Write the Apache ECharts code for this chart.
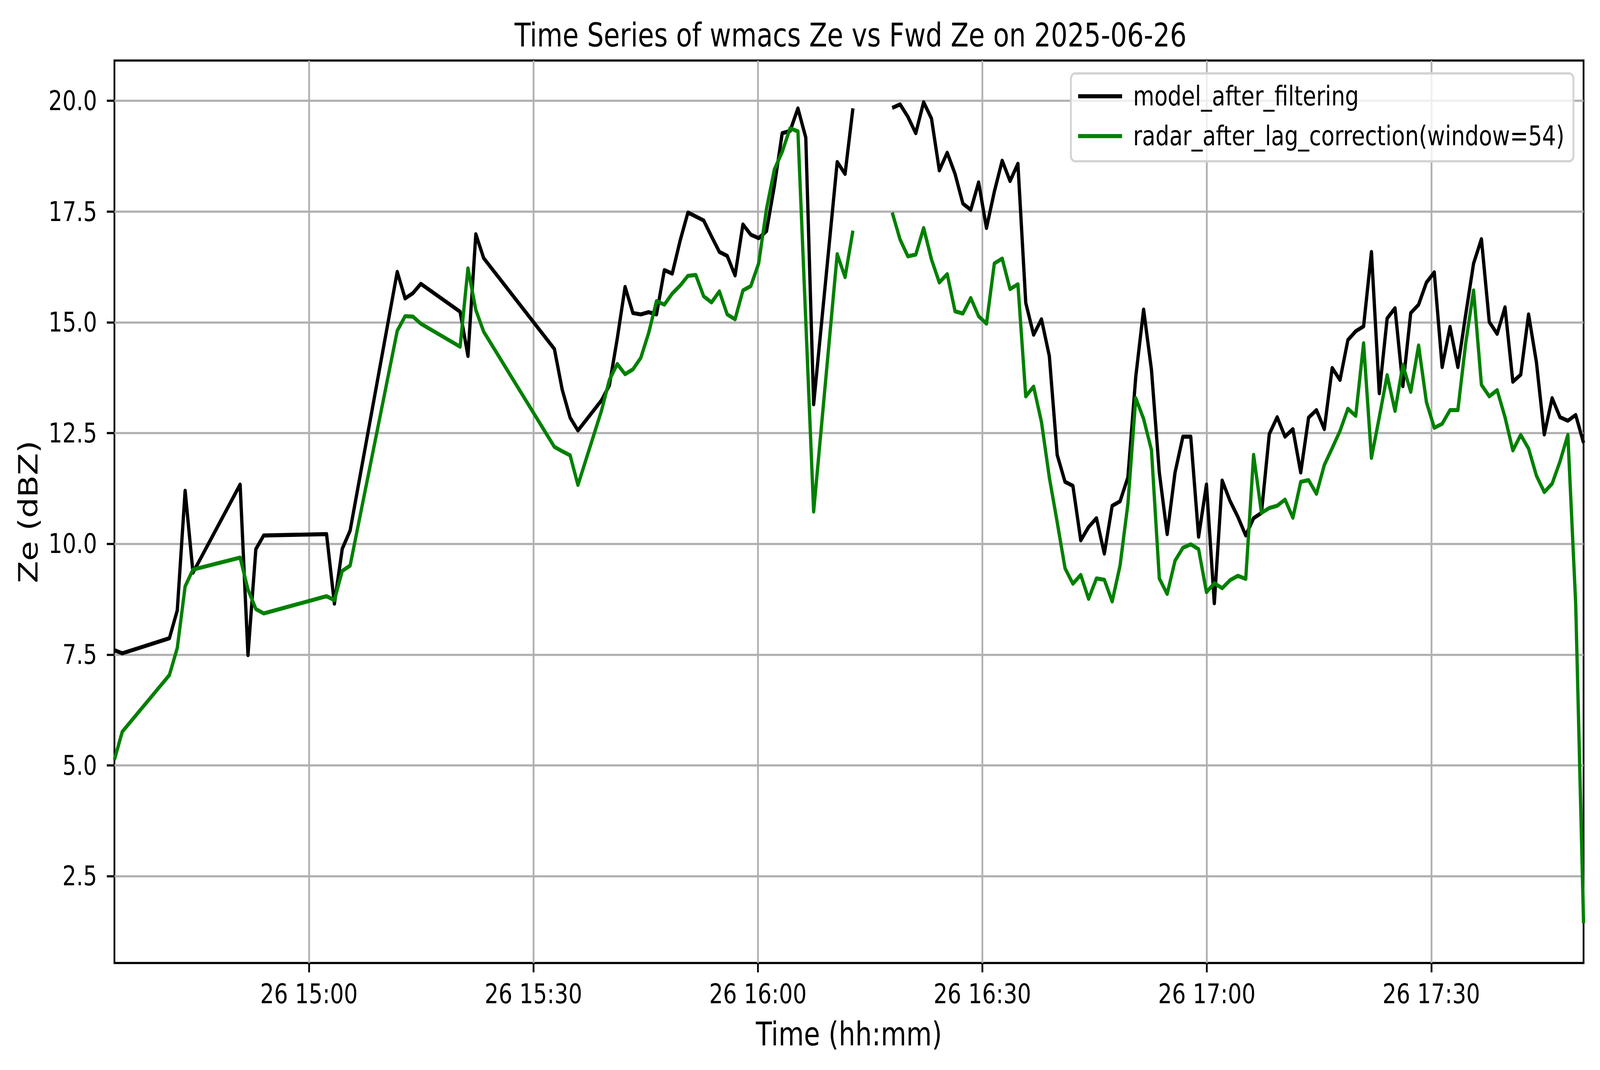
<!DOCTYPE html>
<html>
<head>
<meta charset="utf-8">
<title>Time Series of wmacs Ze vs Fwd Ze</title>
<script src="https://cdn.jsdelivr.net/npm/echarts@6/dist/echarts.min.js"></script>
<style>
  html, body { margin: 0; padding: 0; background: #ffffff; overflow: hidden; }
  #chart { width: 5062px; height: 2740px; transform-origin: 0 0; }
</style>
</head>
<body>
<div id="chart"></div>
<script>
// ============================
//   DATA
// ============================
const times = [
  "14:34:00", "14:35:03", "14:41:21", "14:42:24", "14:43:27", "14:44:30",
  "14:50:48", "14:51:51", "14:52:54", "14:53:57",
  "15:02:21", "15:03:24", "15:04:27", "15:05:30",
  "15:11:48", "15:12:51", "15:13:54", "15:14:57",
  "15:20:12", "15:21:15", "15:22:18", "15:23:21",
  "15:32:48", "15:33:51", "15:34:54", "15:35:57",
  "15:39:06", "15:40:09", "15:41:12", "15:42:15", "15:43:18", "15:44:21",
  "15:45:24", "15:46:27", "15:47:30", "15:48:33", "15:49:36", "15:50:39",
  "15:51:42", "15:52:45", "15:53:48", "15:54:51", "15:55:54", "15:56:57",
  "15:58:00", "15:59:03", "16:00:06", "16:01:09", "16:02:12", "16:03:15",
  "16:04:18", "16:05:21", "16:06:24", "16:07:27",
  "16:10:36", "16:11:39", "16:12:42", "16:13:45",
  "16:17:57", "16:19:00", "16:20:03", "16:21:06", "16:22:09", "16:23:12",
  "16:24:15", "16:25:18", "16:26:21", "16:27:24", "16:28:27", "16:29:30",
  "16:30:33", "16:31:36", "16:32:39", "16:33:42", "16:34:45", "16:35:48",
  "16:36:51", "16:37:54", "16:38:57", "16:40:00", "16:41:03", "16:42:06",
  "16:43:09", "16:44:12", "16:45:15", "16:46:18", "16:47:21", "16:48:24",
  "16:49:27", "16:50:30", "16:51:33", "16:52:36", "16:53:39", "16:54:42",
  "16:55:45", "16:56:48", "16:57:51", "16:58:54", "16:59:57", "17:01:00",
  "17:02:03", "17:03:06", "17:04:09", "17:05:12", "17:06:15", "17:07:18",
  "17:08:21", "17:09:24", "17:10:27", "17:11:30", "17:12:33", "17:13:36",
  "17:14:39", "17:15:42", "17:16:45", "17:17:48", "17:18:51", "17:19:54",
  "17:20:57", "17:22:00", "17:23:03", "17:24:06", "17:25:09", "17:26:12",
  "17:27:15", "17:28:18", "17:29:21", "17:30:24", "17:31:27", "17:32:30",
  "17:33:33", "17:34:36", "17:35:39", "17:36:42", "17:37:45", "17:38:48",
  "17:39:51", "17:40:54", "17:41:57", "17:43:00", "17:44:03", "17:45:06",
  "17:46:09", "17:47:12", "17:48:15", "17:49:18", "17:50:21",
];

// model_after_filtering (null = missing sample, breaks the line)
const modelZe = [
  7.60, 7.53, 7.87, 8.50, 11.20, 9.35,
  11.34, 7.49, 9.88, 10.19,
  10.22, 8.65, 9.89, 10.30,
  16.14, 15.54, 15.66, 15.87,
  15.24, 14.24, 16.99, 16.45,
  14.40, 13.48, 12.85, 12.56,
  13.24, 13.58, 14.63, 15.80, 15.21, 15.18,
  15.23, 15.18, 16.18, 16.10, 16.84, 17.48,
  17.39, 17.30, 16.94, 16.59, 16.50, 16.06,
  17.21, 16.98, 16.90, 17.06, 18.08, 19.27,
  19.32, 19.83, 19.17, 13.15,
  18.62, 18.35, 19.83, null,
  19.84, 19.92, 19.64, 19.27, 19.97, 19.60,
  18.43, 18.83, 18.35, 17.68, 17.54, 18.16,
  17.13, 17.95, 18.65, 18.19, 18.58, 15.44,
  14.72, 15.07, 14.24, 12.01, 11.40, 11.31,
  10.08, 10.38, 10.58, 9.78, 10.86, 10.96,
  11.50, 13.77, 15.29, 13.93, 11.61, 10.22,
  11.61, 12.42, 12.42, 10.16, 11.34, 8.66,
  11.43, 10.97, 10.61, 10.19, 10.58, 10.70,
  12.48, 12.86, 12.42, 12.59, 11.61, 12.85,
  13.02, 12.59, 13.97, 13.70, 14.60, 14.80,
  14.91, 16.59, 13.40, 15.09, 15.32, 13.56,
  15.21, 15.40, 15.90, 16.13, 13.99, 14.90,
  13.99, 15.18, 16.33, 16.88, 15.01, 14.74,
  15.34, 13.66, 13.82, 15.18, 14.10, 12.47,
  13.29, 12.86, 12.78, 12.91, 12.28,
];

// radar_after_lag_correction(window=54)
const radarZe = [
  5.13, 5.76, 7.04, 7.65, 9.04, 9.42,
  9.69, 8.97, 8.53, 8.43,
  8.82, 8.73, 9.39, 9.51,
  14.81, 15.14, 15.13, 14.97,
  14.45, 16.22, 15.28, 14.79,
  12.19, 12.09, 12.00, 11.33,
  13.01, 13.70, 14.06, 13.83, 13.94, 14.20,
  14.76, 15.48, 15.40, 15.65, 15.83, 16.05,
  16.07, 15.59, 15.45, 15.70, 15.18, 15.07,
  15.72, 15.82, 16.33, 17.56, 18.45, 18.85,
  19.38, 19.31, 15.03, 10.73,
  16.54, 16.02, 17.07, null,
  17.48, 16.87, 16.49, 16.53, 17.13, 16.42,
  15.90, 16.09, 15.25, 15.20, 15.55, 15.14,
  14.97, 16.33, 16.44, 15.75, 15.86, 13.33,
  13.55, 12.75, 11.50, 10.49, 9.45, 9.10,
  9.30, 8.76, 9.22, 9.19, 8.70, 9.51,
  10.90, 13.29, 12.82, 12.12, 9.22, 8.87,
  9.62, 9.91, 9.99, 9.88, 8.91, 9.11,
  9.00, 9.18, 9.28, 9.21, 12.01, 10.70,
  10.81, 10.86, 11.00, 10.59, 11.40, 11.44,
  11.13, 11.78, 12.16, 12.55, 13.05, 12.89,
  14.53, 11.94, 12.86, 13.81, 13.00, 14.04,
  13.43, 14.48, 13.20, 12.62, 12.71, 13.02,
  13.02, 14.53, 15.72, 13.59, 13.33, 13.47,
  12.86, 12.11, 12.46, 12.15, 11.54, 11.17,
  11.36, 11.86, 12.46, 8.64, 1.44,
];

// axis ticks
const xTickTimes = ["15:00", "15:30", "16:00", "16:30", "17:00", "17:30"];
const yTickValues = [2.5, 5.0, 7.5, 10.0, 12.5, 15.0, 17.5, 20.0];
const yRange = [0.54, 20.91];

const seriesNames = ["model_after_filtering", "radar_after_lag_correction(window=54)"];

// ============================
//   HELPERS
// ============================
// "HH:MM(:SS)" -> minutes of the day
const toMinutes = (s) => {
  const p = s.split(":").map(Number);
  return p[0] * 60 + p[1] + (p[2] || 0) / 60;
};

const pad2 = (n) => String(n).padStart(2, "0");
const fmtTime = (m) => {
  const mm = Math.round(m);
  return `26 ${pad2(Math.floor(mm / 60))}:${pad2(mm % 60)}`;
};

const xs = times.map(toMinutes);
const pairs = (vals) => xs.map((x, i) => [x, vals[i]]);

// ============================
//   STYLE (matplotlib look, 500 dpi)
// ============================
const FIG_W = 5062;
const FIG_H = 2740;
const FONT = "DejaVu Sans";
const TICK_FS = 69;
const LABEL_FS = 83;
const SPINE_W = 5.6;
const LINE_W = 10.4;

// the window may be narrower than the figure: squeeze the figure to fit it
const el = document.getElementById("chart");
const sx = Math.min(1, (window.innerWidth || FIG_W) / FIG_W);
const sy = Math.min(1, (window.innerHeight || FIG_H) / FIG_H);
el.style.transform = `scale(${sx}, ${sy})`;

const chart = echarts.init(el, null, {
  renderer: "svg",
  width: FIG_W,
  height: FIG_H,
});

chart.setOption({
  animation: false,
  backgroundColor: "#ffffff",

  title: {
    text: "Time Series of wmacs Ze vs Fwd Ze on 2025-06-26",
    left: 2686,
    top: 44,
    textAlign: "center",
    textStyle: {
      fontFamily: FONT,
      fontSize: LABEL_FS,
      fontWeight: "normal",
      color: "#000000",
    },
  },

  legend: {
    data: seriesNames,
    orient: "vertical",
    right: 84,
    top: 188,
    icon: "rect",
    itemWidth: 139,
    itemHeight: 10.4,
    itemGap: 33,
    padding: [24, 28, 30, 23],
    backgroundColor: "rgba(255,255,255,0.8)",
    borderColor: "#d4d4d4",
    borderWidth: 6,
    borderRadius: 14,
    textStyle: {
      fontFamily: FONT,
      fontSize: TICK_FS,
      color: "#000000",
      padding: [0, 0, 0, 30],
    },
  },

  grid: {
    left: 362,
    right: 52,
    top: 155,
    bottom: 274,
    show: true,
    borderColor: "#000000",
    borderWidth: SPINE_W,
    backgroundColor: "transparent",
  },

  xAxis: {
    type: "value",
    min: xs[0],
    max: xs[xs.length - 1],
    name: "Time (hh:mm)",
    nameLocation: "middle",
    nameGap: 141,
    nameTextStyle: { fontFamily: FONT, fontSize: LABEL_FS, color: "#000000" },
    axisLine: { show: false },
    axisTick: {
      show: true,
      length: 24,
      lineStyle: { color: "#000000", width: SPINE_W },
      customValues: xTickTimes.map(toMinutes),
    },
    axisLabel: {
      fontFamily: FONT,
      fontSize: TICK_FS,
      color: "#000000",
      margin: 45,
      customValues: xTickTimes.map(toMinutes),
      formatter: (v) => fmtTime(v),
    },
    splitLine: {
      show: true,
      lineStyle: { color: "#b0b0b0", width: SPINE_W },
    },
  },

  yAxis: {
    type: "value",
    min: yRange[0],
    max: yRange[1],
    name: "Ze (dBZ)",
    nameLocation: "middle",
    nameGap: 230,
    nameTextStyle: { fontFamily: FONT, fontSize: LABEL_FS, color: "#000000" },
    axisLine: { show: false },
    axisTick: {
      show: true,
      length: 24,
      lineStyle: { color: "#000000", width: SPINE_W },
      customValues: yTickValues,
    },
    axisLabel: {
      fontFamily: FONT,
      fontSize: TICK_FS,
      color: "#000000",
      margin: 55,
      customValues: yTickValues,
      formatter: (v) => Number(v).toFixed(1),
    },
    splitLine: {
      show: true,
      lineStyle: { color: "#b0b0b0", width: SPINE_W },
    },
  },

  series: [
    {
      name: seriesNames[0],
      type: "line",
      data: pairs(modelZe),
      showSymbol: false,
      connectNulls: false,
      color: "#000000",
      lineStyle: { color: "#000000", width: LINE_W, join: "round", cap: "butt" },
      z: 3,
    },
    {
      name: seriesNames[1],
      type: "line",
      data: pairs(radarZe),
      showSymbol: false,
      connectNulls: false,
      color: "#008000",
      lineStyle: { color: "#008000", width: LINE_W, join: "round", cap: "butt" },
      z: 4,
    },
  ],
});
</script>
</body>
</html>
